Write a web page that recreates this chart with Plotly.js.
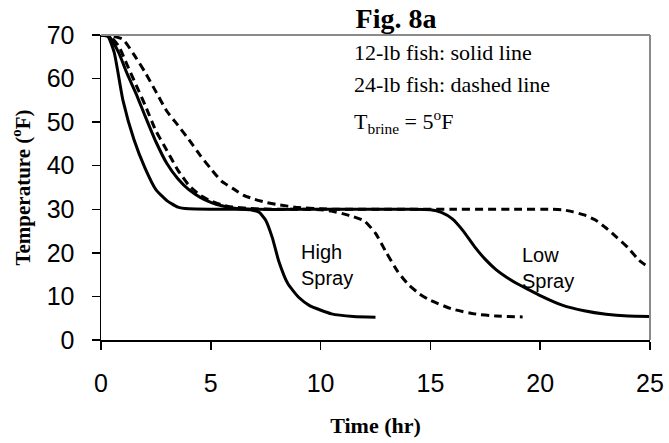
<!DOCTYPE html>
<html>
<head>
<meta charset="utf-8">
<script src="https://cdn.plot.ly/plotly-3.0.1.min.js"></script>
<style>html,body{margin:0;padding:0;background:#fff;}#chart{width:669px;height:443px;}</style>
</head>
<body>
<div id="chart"></div>
<script>
// 12-lb fish, High Spray (solid)
var t12High = [0, 0.3, 0.6, 1.0, 1.5, 2.0, 2.5, 3.0, 3.5, 4.0, 5.0, 6.0, 6.8, 7.2, 7.5, 7.8, 8.1, 8.5, 9.0, 9.5, 10.5, 11.5, 12.5];
var T12High = [70, 69.8, 66, 55, 46, 39.5, 34.5, 32, 30.5, 30.1, 30, 30, 29.9, 29.3, 27.5, 23.5, 18, 13, 9.8, 7.9, 6.0, 5.4, 5.2];
// 12-lb fish, Low Spray (solid)
var t12Low = [0, 0.4, 0.8, 1.2, 1.6, 2.0, 2.5, 3.0, 3.5, 4.0, 4.5, 5.0, 5.5, 6.0, 7.0, 10.0, 14.0, 15.0, 15.5, 16.0, 16.5, 17.0, 17.5, 18.0, 18.5, 19.0, 19.5, 20.0, 21.0, 22.0, 23.0, 24.0, 25.0];
var T12Low = [70, 69.5, 66, 61, 56.5, 51.5, 45.5, 40.5, 37, 34.5, 32.8, 31.6, 30.8, 30.3, 30, 30, 30, 29.9, 29.3, 27.8, 25, 21.5, 18.5, 16.1, 14.3, 12.8, 11.5, 10.2, 8.0, 6.7, 5.9, 5.5, 5.4];
// 24-lb fish, High Spray (dashed)
var t24High = [0, 0.4, 0.8, 1.2, 1.6, 2.0, 2.5, 3.0, 3.5, 4.0, 4.5, 5.0, 5.5, 6.0, 7.0, 8.0, 9.0, 10.0, 10.5, 11.0, 11.5, 12.0, 12.5, 13.0, 13.5, 14.0, 14.5, 15.0, 16.0, 17.0, 18.0, 19.2];
var T24High = [70, 69.8, 67.5, 63, 58.5, 54, 48, 43.5, 39, 35.5, 33.3, 31.9, 31.0, 30.5, 30.1, 30, 30, 29.9, 29.6, 29.0, 28.3, 27.3, 24.5, 20, 15.8, 12.7, 10.6, 9.1, 7.1, 6.0, 5.5, 5.3];
// 24-lb fish, Low Spray (dashed)
var t24Low = [0, 0.5, 1.0, 1.5, 2.0, 2.5, 3.0, 3.5, 4.0, 4.5, 5.0, 5.5, 6.0, 6.5, 7.0, 7.5, 8.0, 9.0, 10.0, 11.0, 13.0, 16.0, 19.0, 20.5, 21.0, 21.5, 22.0, 22.5, 23.0, 23.5, 24.0, 24.5, 25.0];
var T24Low = [70, 69.8, 69, 65.5, 61.5, 57, 52.5, 49.3, 46, 42.5, 39.3, 36.4, 34.8, 33.2, 32.3, 31.6, 31.1, 30.4, 30.1, 30, 30, 30, 30, 30, 29.9, 29.4, 28.7, 27.6, 25.7, 23.5, 21.2, 18.3, 16.5];

var xTicks = [0, 5, 10, 15, 20, 25];
var yTicks = [0, 10, 20, 30, 40, 50, 60, 70];

var solid = {color: '#000', width: 3, shape: 'spline', smoothing: 0.5};
var dashed = {color: '#000', width: 3, dash: '8px,5px', shape: 'spline', smoothing: 0.5};

var traces = [
  {x: t12High, y: T12High, mode: 'lines', line: solid, name: '12-lb High Spray'},
  {x: t12Low, y: T12Low, mode: 'lines', line: solid, name: '12-lb Low Spray'},
  {x: t24High, y: T24High, mode: 'lines', line: dashed, name: '24-lb High Spray'},
  {x: t24Low, y: T24Low, mode: 'lines', line: dashed, name: '24-lb Low Spray'}
];

var serif = 'Liberation Serif, Times New Roman, serif';
var sans = 'Liberation Sans, Arial, sans-serif';

var layout = {
  width: 669, height: 443,
  margin: {l: 101, r: 19, t: 35, b: 103},
  paper_bgcolor: '#fff', plot_bgcolor: '#fff',
  showlegend: false,
  title: {text: '<b>Fig. 8a</b>', x: 396/669, xanchor: 'center', y: 1 - 18/443, yanchor: 'middle',
          font: {family: serif, size: 28, color: '#000'}},
  xaxis: {
    range: [0, 25], tickvals: xTicks, ticktext: xTicks.map(String),
    showgrid: false, zeroline: false, showline: true, linecolor: '#000', linewidth: 1.5,
    ticks: 'outside', ticklen: 8, tickwidth: 1.5, tickcolor: '#000',
    ticklabelstandoff: 12,
    tickfont: {family: sans, size: 25, color: '#000'},
    title: {text: '<b>Time (hr)</b>', font: {family: serif, size: 22, color: '#000'}, standoff: 22}
  },
  yaxis: {
    range: [0, 70], tickvals: yTicks, ticktext: yTicks.map(String),
    showgrid: false, zeroline: false, showline: true, linecolor: '#000', linewidth: 1.5,
    ticks: 'outside', ticklen: 8, tickwidth: 1.5, tickcolor: '#000',
    ticklabelstandoff: 12,
    tickfont: {family: sans, size: 25, color: '#000'},
    title: {text: '<b>Temperature (<sup>o</sup>F)</b>', font: {family: serif, size: 21, color: '#000'}, standoff: 10}
  },
  shapes: [
    {type: 'line', xref: 'paper', yref: 'paper', x0: 0, x1: 1, y0: 1, y1: 1, line: {color: '#8a8a8a', width: 2}},
    {type: 'line', xref: 'paper', yref: 'paper', x0: 1, x1: 1, y0: 0, y1: 1, line: {color: '#8a8a8a', width: 2}}
  ],
  annotations: [
    {xref: 'paper', yref: 'paper', x: 0.457, y: 0.944, xanchor: 'left', yanchor: 'middle', showarrow: false,
     text: '12-lb fish: solid line', font: {family: serif, size: 22, color: '#000'}},
    {xref: 'paper', yref: 'paper', x: 0.457, y: 0.839, xanchor: 'left', yanchor: 'middle', showarrow: false,
     text: '24-lb fish: dashed line', font: {family: serif, size: 22, color: '#000'}},
    {xref: 'paper', yref: 'paper', x: 0.457, y: 0.718, xanchor: 'left', yanchor: 'middle', showarrow: false,
     text: 'T<sub>brine</sub> = 5<sup>o</sup>F', font: {family: serif, size: 22, color: '#000'}},
    {xref: 'x', yref: 'y', x: 9.0, y: 17.2, xanchor: 'left', yanchor: 'middle', align: 'left', showarrow: false,
     text: 'High<br>Spray', font: {family: sans, size: 20, color: '#000'}},
    {xref: 'x', yref: 'y', x: 19.1, y: 16.5, xanchor: 'left', yanchor: 'middle', align: 'left', showarrow: false,
     text: 'Low<br>Spray', font: {family: sans, size: 20, color: '#000'}}
  ]
};

Plotly.newPlot('chart', traces, layout, {staticPlot: true, displayModeBar: false});
</script>
</body>
</html>
